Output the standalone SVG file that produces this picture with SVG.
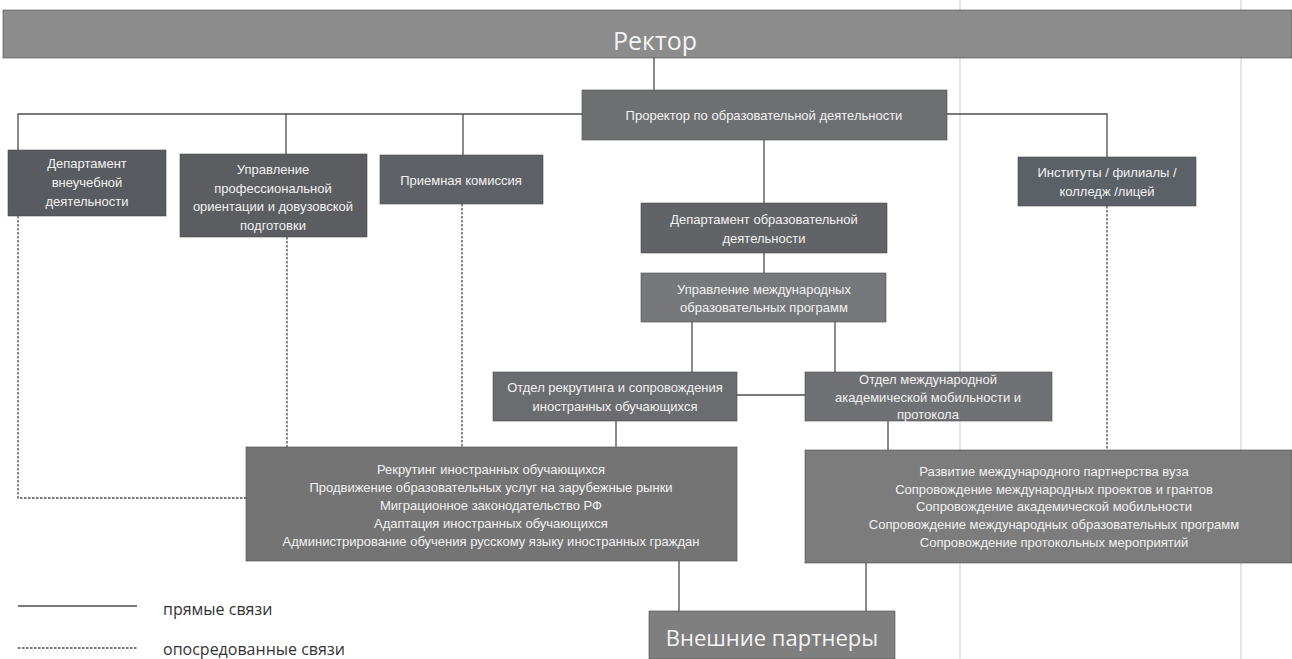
<svg xmlns="http://www.w3.org/2000/svg" width="1292" height="659" viewBox="0 0 1292 659">
<style>
.bg{fill:#ffffff}
.edge{stroke:#dcdcdc;stroke-width:1.5}
.box{stroke:#4a4a4a;stroke-width:0.6}
.t{font-family:"Liberation Sans","Open Sans",sans-serif;font-size:13px;fill:#f2f2f2;text-anchor:middle;dominant-baseline:central}
.big{font-family:"Open Sans","Liberation Sans",sans-serif;fill:#f4f4f4;text-anchor:middle;dominant-baseline:central}
.ln{stroke:#4d4d4d;stroke-width:1.3;fill:none}
.ds{stroke:#4d4d4d;stroke-width:1.3;fill:none;stroke-dasharray:2.5 1.5}
.leg{font-family:"Open Sans","Liberation Sans",sans-serif;font-size:16px;fill:#333333;dominant-baseline:central}
</style>
<rect class="bg" x="0" y="0" width="1292" height="659"/>
<line class="edge" x1="960" y1="0" x2="960" y2="659"/>
<line class="edge" x1="1241" y1="0" x2="1241" y2="659"/>

<g id="connectors">
  <line class="ln" x1="654" y1="58" x2="654" y2="90"/>
  <polyline class="ln" points="18,150 18,114 582,114"/>
  <line class="ln" x1="286" y1="114" x2="286" y2="154"/>
  <line class="ln" x1="463" y1="114" x2="463" y2="155"/>
  <polyline class="ln" points="947,114 1107,114 1107,157"/>
  <line class="ln" x1="764" y1="140" x2="764" y2="203"/>
  <line class="ln" x1="764" y1="253" x2="764" y2="273"/>
  <line class="ln" x1="692" y1="322" x2="692" y2="372"/>
  <line class="ln" x1="835" y1="322" x2="835" y2="372"/>
  <line class="ln" x1="737" y1="395" x2="805" y2="395"/>
  <line class="ln" x1="616" y1="421" x2="616" y2="447"/>
  <line class="ln" x1="888" y1="421" x2="888" y2="450"/>
  <line class="ln" x1="679" y1="561" x2="679" y2="611"/>
  <line class="ln" x1="866" y1="563" x2="866" y2="611"/>
  <polyline class="ds" points="18,216 18,498 246,498"/>
  <line class="ds" x1="287" y1="237" x2="287" y2="447"/>
  <line class="ds" x1="462" y1="204" x2="462" y2="447"/>
  <line class="ds" x1="1107" y1="206" x2="1107" y2="450"/>
</g>

<g id="rector">
  <rect class="box" x="3" y="10" width="1289" height="48" fill="#8c8c8c"/>
  <text class="big" x="655" y="40" font-size="25">Ректор</text>
</g>
<g id="prorector">
  <rect class="box" x="582" y="90" width="365" height="50" fill="#6e6f71"/>
  <text class="t" x="764" y="115">Проректор по образовательной деятельности</text>
</g>
<g id="dep-vneuch">
  <rect class="box" x="8" y="150" width="158" height="66" fill="#585b60"/>
  <text class="t" x="87" y="163">Департамент</text>
  <text class="t" x="87" y="182">внеучебной</text>
  <text class="t" x="87" y="201">деятельности</text>
</g>
<g id="upr-prof">
  <rect class="box" x="180" y="154" width="187" height="83" fill="#5b5d61"/>
  <text class="t" x="273" y="169">Управление</text>
  <text class="t" x="273" y="188">профессиональной</text>
  <text class="t" x="273" y="206">ориентации и довузовской</text>
  <text class="t" x="273" y="225">подготовки</text>
</g>
<g id="priem">
  <rect class="box" x="380" y="155" width="163" height="49" fill="#5e6165"/>
  <text class="t" x="461" y="180">Приемная комиссия</text>
</g>
<g id="instituty">
  <rect class="box" x="1018" y="157" width="178" height="49" fill="#5c6168"/>
  <text class="t" x="1107" y="172">Институты / филиалы /</text>
  <text class="t" x="1107" y="191">колледж /лицей</text>
</g>
<g id="dep-obr">
  <rect class="box" x="641" y="203" width="246" height="50" fill="#616367"/>
  <text class="t" x="764" y="219">Департамент образовательной</text>
  <text class="t" x="764" y="238">деятельности</text>
</g>
<g id="upr-mezhd">
  <rect class="box" x="641" y="273" width="245" height="49" fill="#76787b"/>
  <text class="t" x="764" y="289">Управление международных</text>
  <text class="t" x="764" y="307">образовательных программ</text>
</g>
<g id="otdel-rekr">
  <rect class="box" x="493" y="372" width="244" height="49" fill="#6a6c6f"/>
  <text class="t" x="615" y="387">Отдел рекрутинга и сопровождения</text>
  <text class="t" x="615" y="406">иностранных обучающихся</text>
</g>
<g id="otdel-mezhd">
  <rect class="box" x="805" y="372" width="247" height="49" fill="#6f7174"/>
  <text class="t" x="928" y="379">Отдел международной</text>
  <text class="t" x="928" y="397">академической мобильности и</text>
  <text class="t" x="928" y="414">протокола</text>
</g>
<g id="func-left">
  <rect class="box" x="246" y="447" width="491" height="114" fill="#747474"/>
  <text class="t" x="491" y="469">Рекрутинг иностранных обучающихся</text>
  <text class="t" x="491" y="487">Продвижение образовательных услуг на зарубежные рынки</text>
  <text class="t" x="491" y="505">Миграционное законодательство РФ</text>
  <text class="t" x="491" y="523">Адаптация иностранных обучающихся</text>
  <text class="t" x="491" y="541">Администрирование обучения русскому языку иностранных граждан</text>
</g>
<g id="func-right">
  <rect class="box" x="805" y="450" width="487" height="113" fill="#7c7c7c"/>
  <text class="t" x="1054" y="471">Развитие международного партнерства вуза</text>
  <text class="t" x="1054" y="489">Сопровождение международных проектов  и грантов</text>
  <text class="t" x="1054" y="506">Сопровождение академической мобильности</text>
  <text class="t" x="1054" y="524">Сопровождение международных образовательных программ</text>
  <text class="t" x="1054" y="542">Сопровождение протокольных мероприятий</text>
</g>
<g id="vneshnie">
  <rect class="box" x="649" y="611" width="246" height="48" fill="#7f7f7f"/>
  <text class="big" x="772" y="637" font-size="22">Внешние партнеры</text>
</g>
<g id="legend">
  <line class="ln" x1="18" y1="606" x2="137" y2="606"/>
  <text class="leg" x="163" y="609">прямые связи</text>
  <line class="ds" x1="18" y1="648" x2="137" y2="648"/>
  <text class="leg" x="163" y="649">опосредованные  связи</text>
</g>
</svg>
